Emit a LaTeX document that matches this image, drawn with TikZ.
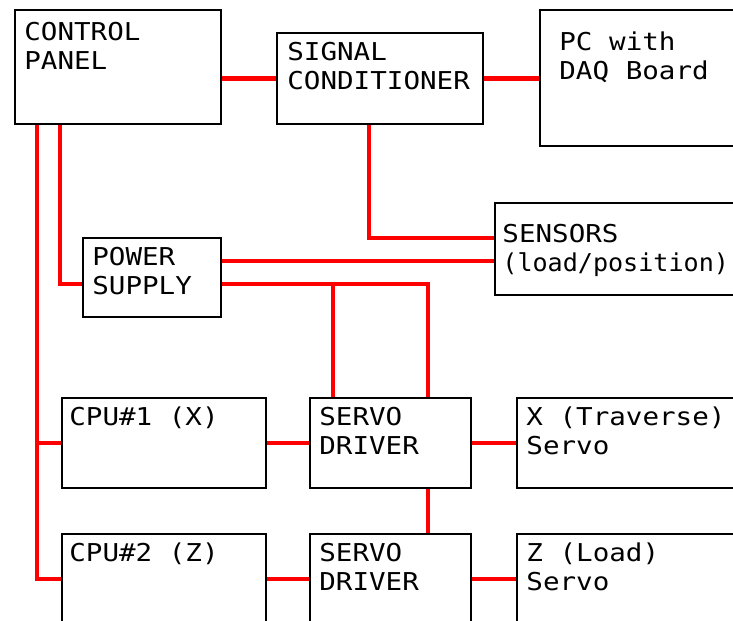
\documentclass[tikz,border=0pt]{standalone}
\usepackage{fontspec}
\usepackage{xcolor}
\newfontfamily\cadfont[FakeStretch=1.12]{DejaVu Sans Mono}
\usetikzlibrary{positioning}
\definecolor{wire}{RGB}{255,0,0}

\begin{document}
\begin{tikzpicture}[x=0.02cm,y=-0.02cm,
    box/.style={draw=black,line width=1.1pt,inner sep=0pt},
    lbl/.style={anchor=north west,inner sep=0pt,align=left,
      font=\cadfont\fontsize{14pt}{16.5pt}\selectfont},
    link/.style={draw=wire,line width=2.3pt}]
    \useasboundingbox (0,0) rectangle (733,620);
    \clip (0,0) rectangle (733,620);
    \node[box,minimum width=4.12cm,minimum height=2.28cm,
      label={[lbl,xshift=0.2cm,yshift=-0.26cm]north west:{CONTROL\\PANEL}}]
      (ctrl) at (118,67) {};
    \node[box,minimum width=4.12cm,minimum height=1.82cm,
      label={[lbl,xshift=0.22cm,yshift=-0.2cm]north west:{SIGNAL\\CONDITIONER}}]
      (sig) at (380,78.5) {};
    \node[box,minimum width=4.4cm,minimum height=2.72cm,
      label={[lbl,xshift=0.4cm,yshift=-0.44cm]north west:{PC with\\DAQ Board}}]
      (pc) at (650,78) {};
    \node[box,minimum width=5.3cm,minimum height=1.84cm,
      label={[lbl,xshift=0.16cm,yshift=-0.44cm]north west:{SENSORS\\{\addfontfeature{FakeStretch=1.02}(load/position)}}}]
      (sens) at (627.5,249) {};
    \node[box,minimum width=2.76cm,minimum height=1.58cm,
      label={[lbl,xshift=0.2cm,yshift=-0.2cm]north west:{POWER\\SUPPLY}}]
      (psu) at (152,277.5) {};
    \foreach \r/\y/\cpu/\srv in {1/443/{CPU\#1 (X)}/{X (Traverse)\\Servo},
                                 2/579/{CPU\#2 (Z)}/{Z (Load)\\Servo}}{
      \node[box,minimum width=4.08cm,minimum height=1.8cm,
        label={[lbl,xshift=0.16cm,yshift=-0.18cm]north west:{\cpu}}]
        (cpu\r) at (164,\y) {};
      \node[box,minimum width=3.22cm,minimum height=1.8cm,
        label={[lbl,xshift=0.2cm,yshift=-0.2cm]north west:{SERVO\\DRIVER}}]
        (drv\r) at (390.5,\y) {};
      \node[box,minimum width=4.86cm,minimum height=1.8cm,
        label={[lbl,xshift=0.2cm,yshift=-0.18cm]north west:{\srv}}]
        (srv\r) at (638.5,\y) {};
    }
    \coordinate (sigdn) at ([xshift=-0.22cm]sig.south);
    \coordinate (psuhi) at ([yshift=0.33cm]psu.east);
    \coordinate (psulo) at ([yshift=-0.13cm]psu.east);
    \coordinate (tapA) at ([xshift=0.48cm]drv1.north west);
    \coordinate (tapB) at ([xshift=-0.88cm]drv1.north east);
    \coordinate (ctrlA) at ([xshift=0.46cm]ctrl.south west);
    \coordinate (ctrlB) at ([xshift=0.92cm]ctrl.south west);
    \draw[link] (ctrl.east |- sig.west) -- (sig.west);
    \draw[link] (sig.east) -- (sig.east -| pc.west);
    \draw[link] (sigdn) |- ([yshift=0.22cm]sens.west);
    \draw[link] (psuhi) -- (psuhi -| sens.west);
    \draw[link] (psulo) -| (tapB);
    \draw[link] (psulo -| tapA) -- (tapA);
    \draw[link] (tapB |- drv1.south) -- (tapB |- drv2.north);
    \draw[link] (ctrlA) |- (cpu2.west);
    \draw[link] (ctrlA |- cpu1.west) -- (cpu1.west);
    \draw[link] (ctrlB) |- ([yshift=-0.13cm]psu.west);
    \foreach \r in {1,2}{
      \draw[link] (cpu\r.east) -- (drv\r.west);
      \draw[link] (drv\r.east) -- (srv\r.west);
    }
  \end{tikzpicture}
\end{document}
